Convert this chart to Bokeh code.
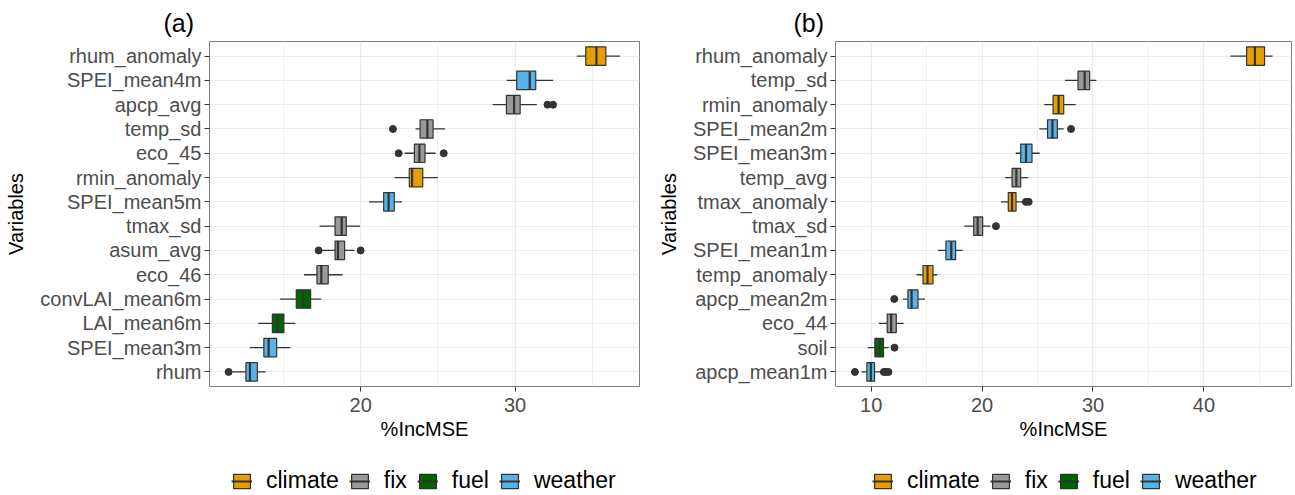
from bokeh.plotting import figure
from bokeh.models import ColumnDataSource, FixedTicker, Legend, LegendItem
from bokeh.layouts import row, column
from bokeh.embed import file_html
from bokeh.resources import INLINE

FONT = "Liberation Sans"
GROUPS = ["climate", "fix", "fuel", "weather"]
GROUP_COLORS = ["#E69F00", "#999999", "#006400", "#56B4E9"]

# ---------------- panel (a) data (top to bottom) ----------------
vars_a = ["rhum_anomaly", "SPEI_mean4m", "apcp_avg", "temp_sd", "eco_45", "rmin_anomaly",
          "SPEI_mean5m", "tmax_sd", "asum_avg", "eco_46", "convLAI_mean6m", "LAI_mean6m",
          "SPEI_mean3m", "rhum"]
group_a = ["climate", "weather", "fix", "fix", "fix", "climate", "weather", "fix", "fix",
           "fix", "fuel", "fuel", "weather", "weather"]
lo_a = [34.0, 29.46, 28.55, 23.56, 22.85, 22.2, 20.54, 17.34, 17.5, 16.33, 14.77, 13.37, 12.81, 11.7]
q1_a = [34.58, 30.11, 29.44, 23.85, 23.48, 23.15, 21.49, 18.34, 18.34, 17.17, 15.83, 14.28, 13.73, 12.57]
med_a = [35.27, 30.95, 29.94, 24.32, 23.8, 23.33, 21.81, 18.77, 18.53, 17.45, 16.28, 14.64, 14.04, 12.83]
q3_a = [35.88, 31.34, 30.33, 24.69, 24.17, 24.02, 22.18, 19.07, 18.96, 17.9, 16.76, 15.03, 14.56, 13.31]
hi_a = [36.81, 32.46, 31.41, 25.47, 24.86, 25.01, 22.68, 19.96, 19.6, 18.83, 17.45, 15.77, 15.44, 13.84]
out_a = [[], [], [32.1, 32.46], [22.09], [22.46, 25.38], [], [], [], [17.28, 20.0], [], [], [], [], [11.45]]

# ---------------- panel (b) data (top to bottom) ----------------
vars_b = ["rhum_anomaly", "temp_sd", "rmin_anomaly", "SPEI_mean2m", "SPEI_mean3m", "temp_avg",
          "tmax_anomaly", "tmax_sd", "SPEI_mean1m", "temp_anomaly", "apcp_mean2m", "eco_44",
          "soil", "apcp_mean1m"]
group_b = ["climate", "fix", "climate", "weather", "weather", "fix", "climate", "fix", "weather",
           "climate", "weather", "fix", "fuel", "weather"]
lo_b = [42.4, 27.48, 25.6, 25.16, 23.03, 22.06, 21.7, 18.39, 16.02, 14.09, 12.86, 10.69, 9.7, 9.13]
q1_b = [43.85, 28.65, 26.4, 25.9, 23.48, 22.7, 22.36, 19.24, 16.74, 14.67, 13.31, 11.44, 10.33, 9.61]
med_b = [44.6, 29.25, 26.9, 26.34, 23.96, 23.09, 22.7, 19.6, 17.22, 15.08, 13.64, 11.8, 10.75, 9.97]
q3_b = [45.47, 29.7, 27.36, 26.79, 24.5, 23.48, 23.06, 20.05, 17.61, 15.57, 14.22, 12.26, 11.11, 10.3]
hi_b = [46.19, 30.31, 28.44, 27.36, 25.19, 24.17, 23.75, 20.74, 18.24, 15.96, 14.85, 12.92, 11.56, 10.96]
out_b = [[], [], [], [28.02], [], [], [23.95, 24.2], [21.25], [], [], [12.08], [], [12.1],
         [8.53, 11.14, 11.32, 11.56]]

xticks_a = [20, 30]
xminor_a = [15, 25, 35]
xticks_b = [10, 20, 30, 40]
xminor_b = [5, 15, 25, 35, 45]

BOX_H = 0.76
DARK = "#333333"
MAIN_H = 460
LEG_H = 35


def make_panel(title, title_offset, vars_, groups, lo, q1, med, q3, hi, outs,
               x_range, major, minor, width, min_left, min_right):
    n = len(vars_)
    ypos = [n - i for i in range(n)]
    cmap = dict(zip(GROUPS, GROUP_COLORS))
    p = figure(width=width, height=MAIN_H, x_range=x_range, y_range=(0.4, n + 0.6),
               output_backend="svg", toolbar_location=None, title=title,
               min_border_left=min_left, min_border_right=min_right,
               min_border_top=41, min_border_bottom=MAIN_H - 386)
    p.background_fill_color = "white"
    p.border_fill_color = "white"
    p.outline_line_color = "#7F7F7F"
    p.outline_line_width = 1

    src = ColumnDataSource(dict(
        y=ypos, lo=lo, q1=q1, med=med, q3=q3, hi=hi,
        y0=[y - BOX_H / 2 for y in ypos], y1=[y + BOX_H / 2 for y in ypos],
        color=[cmap[g] for g in groups]))

    p.segment(x0="lo", y0="y", x1="q1", y1="y", source=src, line_color=DARK, line_width=1.3)
    p.segment(x0="q3", y0="y", x1="hi", y1="y", source=src, line_color=DARK, line_width=1.3)
    p.hbar(y="y", left="q1", right="q3", height=BOX_H, source=src,
           fill_color="color", line_color=DARK, line_width=1.2)
    p.segment(x0="med", y0="y0", x1="med", y1="y1", source=src,
              line_color=DARK, line_width=2.2)

    ox, oy = [], []
    for y, o in zip(ypos, outs):
        for v in o:
            ox.append(v)
            oy.append(y)
    p.scatter(ox, oy, size=7, color=DARK)

    p.xaxis.ticker = FixedTicker(ticks=major, minor_ticks=minor)
    p.yaxis.ticker = FixedTicker(ticks=ypos)
    p.yaxis.major_label_overrides = {y: v for y, v in zip(ypos, vars_)}
    p.xaxis.axis_label = "%IncMSE"
    p.yaxis.axis_label = "Variables"
    for ax in (p.xaxis[0], p.yaxis[0]):
        ax.axis_line_color = None
        ax.major_tick_line_color = DARK
        ax.major_tick_out = 5
        ax.major_tick_in = 0
        ax.minor_tick_line_color = None
        ax.major_label_text_font = FONT
        ax.major_label_text_font_size = "20px"
        ax.major_label_text_color = "#4D4D4D"
        ax.axis_label_text_font = FONT
        ax.axis_label_text_font_size = "20px"
        ax.axis_label_text_font_style = "normal"
        ax.axis_label_text_color = "#000000"
    p.yaxis.major_label_standoff = 3
    p.xaxis.major_label_standoff = 6
    p.yaxis.axis_label_standoff = 10
    p.xaxis.axis_label_standoff = 3

    p.xgrid.grid_line_color = "#EBEBEB"
    p.xgrid.grid_line_width = 1.2
    p.xgrid.minor_grid_line_color = "#EBEBEB"
    p.xgrid.minor_grid_line_width = 0.7
    p.ygrid.grid_line_color = "#EBEBEB"
    p.ygrid.grid_line_width = 1.2

    p.title.text_font = FONT
    p.title.text_font_size = "25px"
    p.title.text_font_style = "normal"
    p.title.text_color = "#000000"
    p.title.align = "left"
    p.title.offset = title_offset
    return p


def make_legend(width, x_loc):
    lf = figure(width=width, height=LEG_H, x_range=(0, 1), y_range=(0, 1),
                output_backend="svg", toolbar_location=None, min_border=0)
    lf.axis.visible = False
    lf.grid.visible = False
    lf.outline_line_color = None
    lf.background_fill_color = "white"
    lf.border_fill_color = "white"
    items = []
    for g, c in zip(GROUPS, GROUP_COLORS):
        # legend-only glyphs, placed outside the visible range
        br = lf.hbar(y=[-5], left=[-5], right=[-4], height=BOX_H, fill_color=c,
                     line_color=DARK, line_width=1.2)
        mr = lf.segment(x0=[-4.5], y0=[-5.4], x1=[-4.5], y1=[-4.6], line_color=DARK,
                        line_width=2)
        items.append(LegendItem(label=g, renderers=[br, mr]))
    legend = Legend(items=items, orientation="horizontal", location=(x_loc, 1),
                    border_line_color=None, background_fill_alpha=0,
                    label_text_font=FONT, label_text_font_size="23px",
                    label_text_color="#000000",
                    glyph_width=21, glyph_height=18, label_standoff=14, spacing=10,
                    padding=2, margin=0)
    lf.add_layout(legend, "center")
    return lf


pa = make_panel("(a)", -46, vars_a, group_a, lo_a, q1_a, med_a, q3_a, hi_a, out_a,
                (10.21, 38.06), xticks_a, xminor_a, 650, 209, 11)
pb = make_panel("(b)", -42, vars_b, group_b, lo_b, q1_b, med_b, q3_b, hi_b, out_b,
                (6.78, 47.9), xticks_b, xminor_b, 645, 185, 4)
la = make_legend(650, 22)
lb = make_legend(645, 37)

layout = row(column(pa, la), column(pb, lb))
open("out.html", "w").write(file_html(layout, INLINE))
